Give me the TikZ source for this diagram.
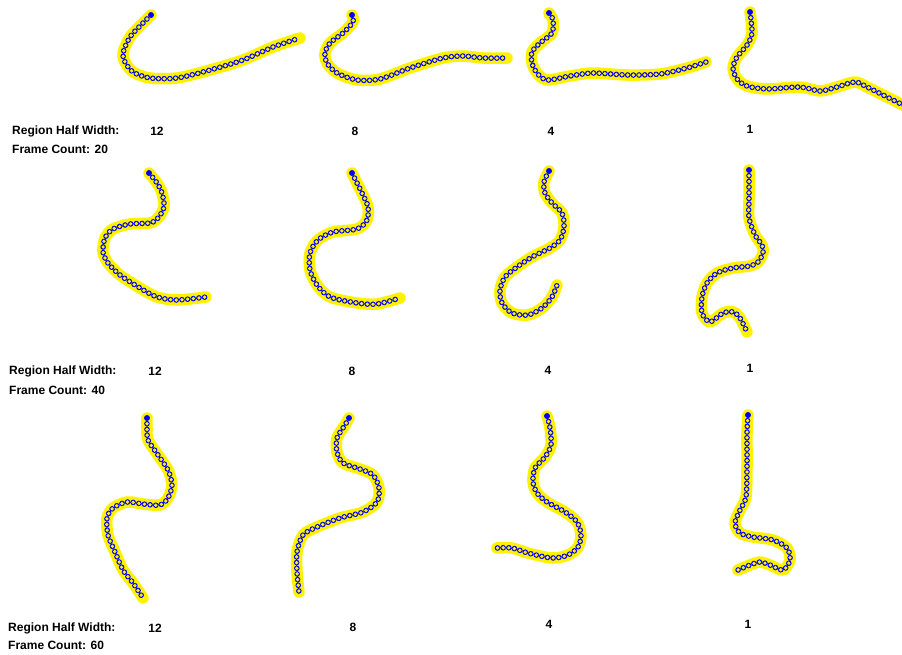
\documentclass[tikz,border=0pt]{standalone}
\usepackage{fontspec}
\setmainfont{Liberation Sans}

\begin{document}
\begin{tikzpicture}[x=1pt, y=-1pt,
		every node/.style={font=\bfseries\fontsize{12}{14}\selectfont, inner sep=0pt},
		lbl/.style={anchor=west},
		trail/.style={draw=yellow, line width=11.5pt, line cap=round, line join=round,
			postaction={draw=blue, line width=5.6pt, line cap=round, dash pattern=on 0pt off 5.7pt},
			postaction={draw=yellow, line width=3.7pt, line cap=round, dash pattern=on 0pt off 5.7pt}},
		headdot/.style={fill=blue}
		]
		
		\path[use as bounding box] (0,0) rectangle (902,654);
		
		% Row 1: frame count 20
		\draw[trail] plot[smooth] coordinates {(151,15) (143,23) (130,37) (123,53) (125,62) (133,72) (150,78) (177,78) (210,70) (243,60) (273,47) (300,38)};
		\fill[headdot] (151,15) circle[radius=2.8pt];
		\draw[trail] plot[smooth] coordinates {(352,15) (353,22) (343,33) (330,43) (325,53) (327,63) (337,73) (357,80) (380,79) (410,68) (443,58) (463,56) (483,58) (507,58)};
		\fill[headdot] (352,15) circle[radius=2.8pt];
		\draw[trail] plot[smooth] coordinates {(549,13) (553,20) (552,33) (540,43) (532,52) (532,63) (537,73) (547,80) (570,76) (593,73) (627,75) (660,74) (687,68) (706,62)};
		\fill[headdot] (549,13) circle[radius=2.8pt];
		\draw[trail] plot[smooth] coordinates {(750,12) (752,33) (747,45) (737,57) (733,68) (737,79) (747,86) (767,89) (800,87) (820,91) (837,87) (855,82) (867,87) (887,97) (905,106)};
		\fill[headdot] (750,12) circle[radius=2.8pt];
		
		% Row 2: frame count 40
		\draw[trail] plot[smooth] coordinates {(149,173) (157,183) (162,193) (164,207) (158,218) (150,223) (130,224) (113,229) (105,238) (103,252) (108,263) (120,275) (140,288) (157,297) (177,300) (206,297)};
		\fill[headdot] (149,173) circle[radius=2.8pt];
		\draw[trail] plot[smooth] coordinates {(352,173) (357,183) (363,195) (368,207) (367,220) (357,229) (333,232) (318,240) (310,253) (310,270) (317,285) (330,297) (357,303) (377,304) (400,298)};
		\fill[headdot] (352,173) circle[radius=2.8pt];
		\draw[trail] plot[smooth] coordinates {(549,171) (544,182) (545,193) (552,203) (562,213) (564,227) (560,240) (550,248) (532,257) (517,267) (505,277) (500,290) (502,303) (512,313) (528,315) (542,308) (552,297) (557,285)};
		\fill[headdot] (549,171) circle[radius=2.8pt];
		\draw[trail] plot[smooth] coordinates {(749,170) (749,200) (749,218) (755,235) (762,245) (763,253) (758,262) (750,266) (733,268) (717,273) (707,283) (702,297) (702,313) (710,322) (723,313) (733,312) (740,318) (747,332)};
		\fill[headdot] (749,170) circle[radius=2.8pt];
		
		% Row 3: frame count 60
		\draw[trail] plot[smooth] coordinates {(147,418) (147,428) (148,440) (158,455) (168,470) (172,485) (168,498) (160,505) (143,504) (127,502) (113,508) (107,518) (108,535) (115,552) (123,570) (133,583) (143,598)};
		\fill[headdot] (147,418) circle[radius=2.8pt];
		\draw[trail] plot[smooth] coordinates {(349,418) (345,425) (337,438) (337,452) (343,463) (360,469) (373,475) (379,488) (377,502) (363,512) (340,518) (317,527) (303,535) (297,552) (297,572) (299,592)};
		\fill[headdot] (349,418) circle[radius=2.8pt];
		\draw[trail] plot[smooth] coordinates {(547,416) (550,428) (551,445) (545,457) (535,468) (533,482) (537,493) (547,502) (565,512) (577,522) (581,535) (578,547) (568,555) (552,558) (528,553) (512,548) (497,548)};
		\fill[headdot] (547,416) circle[radius=2.8pt];
		\draw[trail] plot[smooth] coordinates {(748,415) (747,433) (747,467) (746,497) (740,510) (735,523) (740,533) (753,537) (773,540) (787,548) (790,560) (783,570) (770,565) (760,562) (750,565) (738,570)};
		\fill[headdot] (748,415) circle[radius=2.8pt];
		
		% Labels
		\node[lbl] (hw20) at (12,131) {Region Half Width:};
		\node (w20a) at (157,131) {12};
		\node[lbl] (fc20) at (12,149) {Frame Count: 20};
		\node (w20b) at (355,131) {8};
		\node (w20c) at (551,131) {4};
		\node (w20d) at (750,129) {1};
		
		\node[lbl] (hw40) at (9,371) {Region Half Width:};
		\node (w40a) at (155,371) {12};
		\node[lbl] (fc40) at (9,390) {Frame Count: 40};
		\node (w40b) at (352,371) {8};
		\node (w40c) at (548,370) {4};
		\node (w40d) at (750,368) {1};
		
		\node[lbl] (hw60) at (8,628) {Region Half Width:};
		\node (w60a) at (155,628) {12};
		\node[lbl] (fc60) at (8,645) {Frame Count: 60};
		\node (w60b) at (353,627) {8};
		\node (w60c) at (549,624) {4};
		\node (w60d) at (748,624) {1};
		
	\end{tikzpicture}
\end{document}
